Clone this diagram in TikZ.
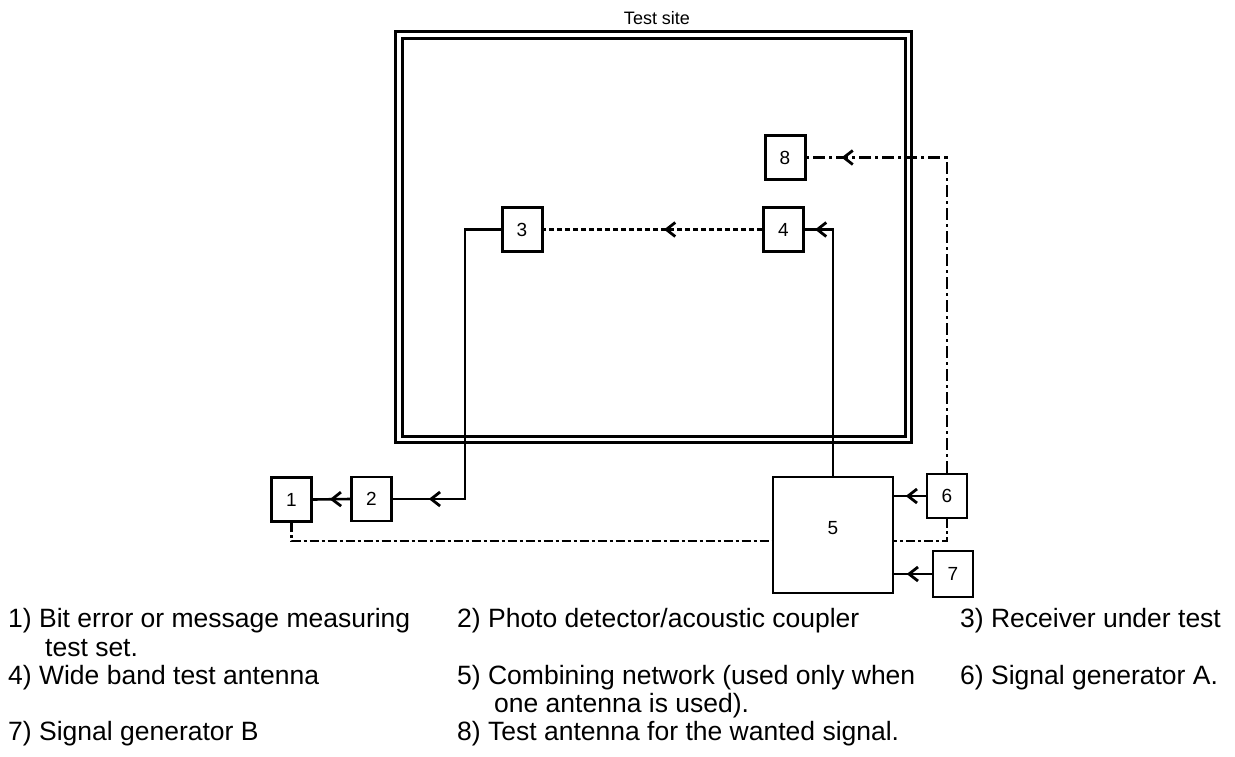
\documentclass[tikz,border=0pt]{standalone}
\usepackage{fontspec}
\setmainfont{Liberation Sans}
\usetikzlibrary{arrows.meta,decorations.markings,calc}
\begin{document}
\begin{tikzpicture}[x=1pt,y=-1pt,
  box/.style={draw, line width=2.6pt, minimum width=40pt, minimum height=44pt, inner sep=0pt, font=\fontsize{19}{19}\selectfont},
  conn/.style={line width=2.6pt},
  dd/.style={conn, dash pattern=on 9pt off 3pt on 3pt off 3pt},
  ddl/.style={conn, dash pattern=on 12pt off 4pt on 3pt off 4pt},
  dsh/.style={conn, dash pattern=on 5pt off 3pt},
  arrowat/.style={postaction={decorate}, decoration={markings, mark=at position #1 with {\arrow{Straight Barb[length=9pt,width=14pt,line width=2.8pt]}}}},
  legend/.style={anchor=base west, inner sep=0pt, font=\fontsize{26.5}{30}\selectfont},
  frameline/.style={line width=3pt}
]
\useasboundingbox (0,0) rectangle (1235,756);
% test site frame
\draw[frameline] (395.5,31) rectangle (911,442);
\draw[frameline] (402,38) rectangle (905,436);
\node[anchor=base, inner sep=0pt, font=\fontsize{18}{18}\selectfont] (site) at (657,24) {Test site};
% boxes
\node[box, line width=3pt] (b1) at (291.5,499.5) {1};
\node[box] (b2) at (371.5,499) {2};
\node[box, line width=3pt] (b3) at (522,229.5) {3};
\node[box, line width=3pt] (b4) at (783.5,229.5) {4};
\node[box, line width=3pt] (b8) at (785,157.5) {8};
\node[box, minimum width=120pt, minimum height=116pt, text depth=14pt] (b5) at (833,535) {5};
\node[box] (b6) at (947,496) {6};
\node[box, minimum height=46pt] (b7) at (953,574) {7};
% junction coordinates
\coordinate (c3) at (465,229.5);
\coordinate (c2) at (465,499);
\coordinate (c4) at (b5.north |- b4.east);
\coordinate (c8) at (b6.north |- b8.east);
\coordinate (j5l) at ($(b5.west)+(0,6)$);
\coordinate (j5r) at ($(b5.east)+(0,6)$);
% connectors
\draw[conn, line join=miter, arrowat=-36pt] (b3.west) -- (c3) -- (c2) -- (b2.east);
\draw[conn, arrowat=0.55] (b2.west) -- (b1.east);
\draw[dd] (b1.south) |- (j5l);
\draw[conn, line join=miter, arrowat=-10pt] (b5.north) -- (c4) -- (b4.east);
\draw[dsh, arrowat=98pt] (b4.west) -- (b3.east);
\draw[ddl, arrowat=-35pt] (b6.north) -- (c8) -- (b8.east);
\draw[conn, arrowat=20pt] (b6.west) -- (b6.west -| b5.east);
\draw[dd] (b6.south) |- (j5r);
\draw[conn, arrowat=25pt] (b7.west) -- (b7.west -| b5.east);
% legend
\node[legend] (l1) at (8,627) {1) Bit error or message measuring};
\node[legend] (l1b) at (45,656) {test set.};
\node[legend] (l2) at (457,627) {2) Photo detector/acoustic coupler};
\node[legend] (l3) at (960,627) {3) Receiver under test};
\node[legend] (l4) at (8,684) {4) Wide band test antenna};
\node[legend] (l5) at (457,684) {5) Combining network (used only when};
\node[legend] (l5b) at (494,712) {one antenna is used).};
\node[legend] (l6) at (960,684) {6) Signal generator A.};
\node[legend] (l7) at (8,740) {7) Signal generator B};
\node[legend] (l8) at (457,740) {8) Test antenna for the wanted signal.};
\end{tikzpicture}
\end{document}
